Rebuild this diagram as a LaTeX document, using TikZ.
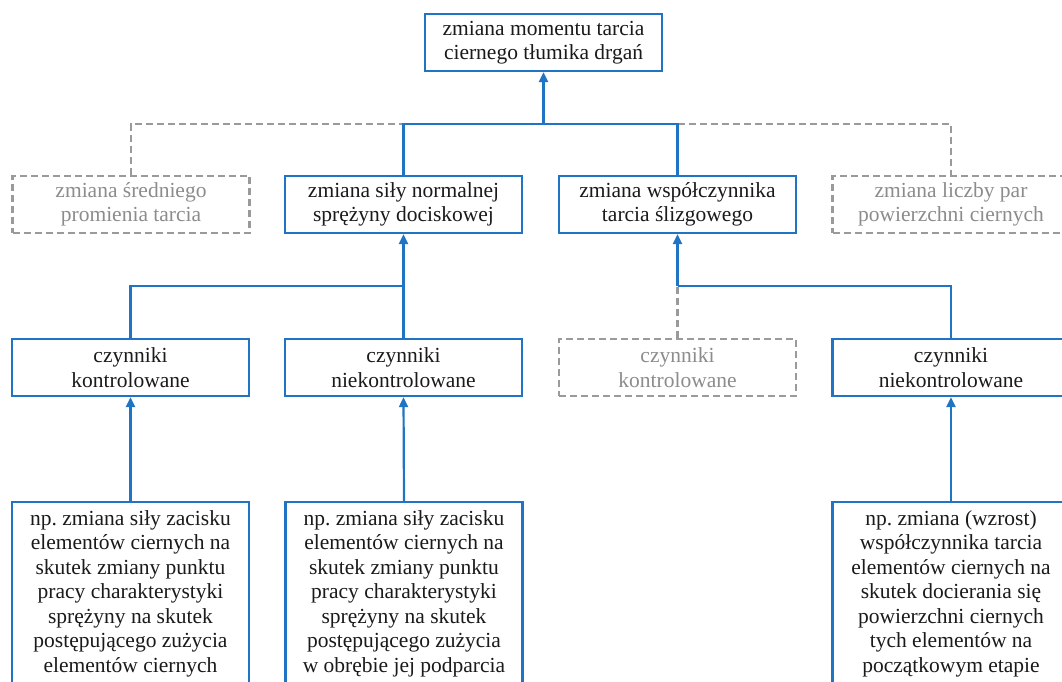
\documentclass[tikz,border=0pt]{standalone}
\usepackage{fontspec}
\setmainfont{Liberation Serif}
\usetikzlibrary{arrows.meta}
\definecolor{bl}{HTML}{1F74C4}
\definecolor{gr}{HTML}{9A9A9A}
\definecolor{grt}{HTML}{8C8C8C}
\definecolor{tx}{HTML}{1A1A1A}
\tikzset{
  box/.style={draw=bl, line width=2.2pt, rectangle, minimum width=237pt, minimum height=57pt,
    align=center, text=tx, font=\fontsize{21.5}{24.5}\selectfont\frenchspacing, inner sep=3pt, fill=white},
  gbox/.style={box, draw=gr, text=grt, dash pattern=on 7pt off 4pt},
  tall/.style={box, anchor=north, inner ysep=8pt},
  conn/.style={draw=bl, line width=2.2pt},
  gconn/.style={draw=gr, line width=2.2pt, dash pattern=on 7pt off 4pt},
  arr/.style={conn, -{Triangle[length=10pt,width=9pt]}}
}
\begin{document}
\begin{tikzpicture}[x=1pt,y=-1pt]
\clip (0,0) rectangle (1062,681);
\fill[white] (0,0) rectangle (1062,681);
\coordinate (jt) at (543.5,124);
\coordinate (jb) at (0,286);
% row 1
\node[box] (top) at (543.5,42.5) {zmiana momentu tarcia\\ciernego tłumika drgań};
% row 2
\node[gbox] (A) at (131,204.5) {zmiana średniego\\promienia tarcia};
\node[box] (B) at (403.5,204.5) {zmiana siły normalnej\\sprężyny dociskowej};
\node[box] (C) at (677.5,204.5) {zmiana współczynnika\\tarcia ślizgowego};
\node[gbox] (D) at (951,204.5) {zmiana liczby par\\powierzchni ciernych};
% row 3
\node[box] (E) at (130.5,367.5) {czynniki\\kontrolowane};
\node[box] (F) at (403.5,367.5) {czynniki\\niekontrolowane};
\node[gbox] (G) at (677.5,367.5) {czynniki\\kontrolowane};
\node[box] (H) at (951,367.5) {czynniki\\niekontrolowane};
% row 4
\node[tall] (I) at (130.5,501) {np. zmiana siły zacisku\\elementów ciernych na\\skutek zmiany punktu\\pracy charakterystyki\\sprężyny na skutek\\postępującego zużycia\\elementów ciernych\rule[-60pt]{0pt}{0pt}};
\node[tall] (J) at (404,501) {np. zmiana siły zacisku\\elementów ciernych na\\skutek zmiany punktu\\pracy charakterystyki\\sprężyny na skutek\\postępującego zużycia\\w obrębie jej podparcia\rule[-60pt]{0pt}{0pt}};
\node[tall] (K) at (951,501) {np. zmiana (wzrost)\\współczynnika tarcia\\elementów ciernych na\\skutek docierania się\\powierzchni ciernych\\tych elementów na\\początkowym etapie\rule[-60pt]{0pt}{0pt}};
% connectors level 1
\draw[gconn] (A.north) -- (A.north |- jt) -- (B.north |- jt);
\draw[gconn] (C.north |- jt) -- (D.north |- jt) -- (D.north);
\draw[conn] (B.north) -- (B.north |- jt) -- (C.north |- jt) -- (C.north);
\draw[arr] (jt) -- (top.south);
% connectors level 2
\draw[conn] (E.north) -- (E.north |- jb) -- (F.north |- jb);
\draw[arr] (F.north) -- (B.south);
\draw[gconn] (G.north) -- (G.north |- jb);
\draw[conn] (H.north) -- (H.north |- jb) -- (C.south |- jb);
\draw[arr] (C.south |- jb) -- (C.south);
% connectors level 3
\draw[arr] (I.north) -- (E.south);
\draw[arr] (J.north) -- (F.south);
\draw[arr] (K.north) -- (H.south);
\end{tikzpicture}
\end{document}
